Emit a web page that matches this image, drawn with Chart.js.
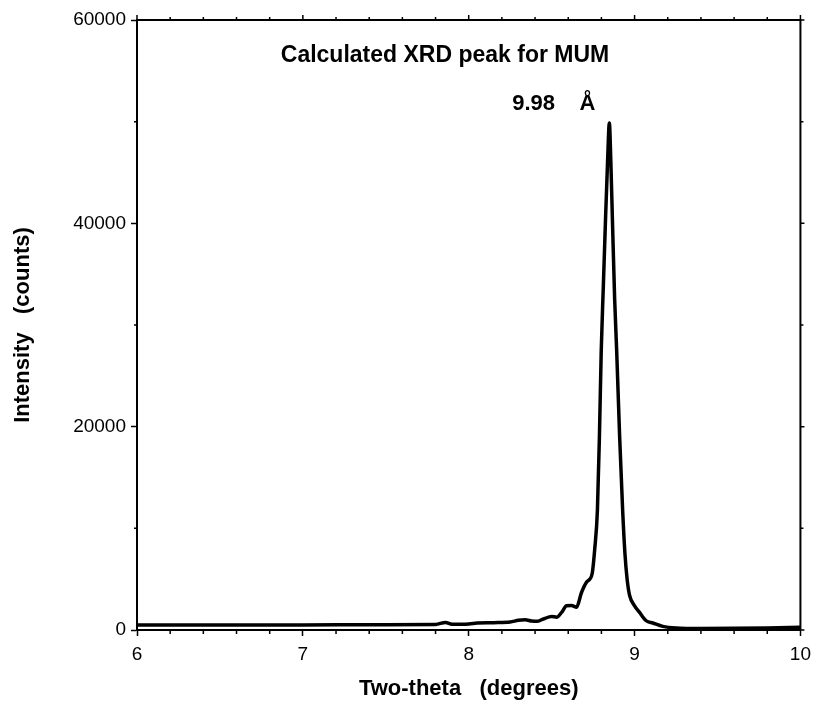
<!DOCTYPE html>
<html>
<head>
<meta charset="utf-8">
<script src="https://cdn.jsdelivr.net/npm/chart.js@4/dist/chart.umd.min.js"></script>
<style>
  html, body { margin: 0; padding: 0; background: #fff; }
  #wrap { width: 818px; height: 702px; position: relative; }
</style>
</head>
<body>
<div id="wrap"><canvas id="c" width="818" height="702"></canvas></div>
<script>
// ---- data ----
const twoTheta = [
  6.0, 6.5, 7.0, 7.5, 7.8, 7.86, 7.9, 8.0, 8.05, 8.15, 8.25, 8.3, 8.34, 8.38,
  8.41, 8.45, 8.50, 8.53, 8.56, 8.59, 8.62, 8.65, 8.68, 8.71, 8.73, 8.745,
  8.76, 8.776, 8.788, 8.799, 8.812, 8.824, 8.837, 8.848, 8.857, 8.867, 8.88,
  8.892, 8.91, 8.928, 8.942, 8.955, 8.97, 9.0, 9.03, 9.07, 9.11, 9.17, 9.25,
  9.4, 9.6, 9.8, 10.0
];
const intensity = [
  480, 490, 500, 520, 540, 750, 560, 590, 680, 720, 780, 950, 1000, 880,
  850, 1080, 1340, 1260, 1730, 2380, 2400, 2250, 3690, 4700, 5000, 5600,
  8000, 11800, 19000, 27500, 34000, 40000, 46000, 49870, 46000, 40000, 32500,
  27500, 19000, 11800, 7500, 5000, 3400, 2380, 1730, 910, 690, 360, 200,
  150, 160, 200, 280
];
const xMajorTicks = [6, 7, 8, 9, 10];
const xMinorTicks = [6.2, 6.4, 6.6, 6.8, 7.2, 7.4, 7.6, 7.8, 8.2, 8.4, 8.6, 8.8, 9.2, 9.4, 9.6, 9.8];
const yMajorTicks = [0, 20000, 40000, 60000];
const yMinorTicks = [10000, 30000, 50000];
const chartTitle = 'Calculated XRD peak for MUM';
const peakLabel = '9.98    Å';
const xTitle = 'Two-theta   (degrees)';
const yTitle = 'Intensity   (counts)';

const FONT = '"Liberation Sans", Arial, Helvetica, sans-serif';

const framePlugin = {
  id: 'frame',
  afterDraw(chart) {
    const {ctx, chartArea: a, scales: {x, y}} = chart;
    ctx.save();
    ctx.strokeStyle = '#000';
    ctx.lineCap = 'butt';
    // top and right frame lines
    ctx.lineWidth = 2;
    ctx.beginPath();
    ctx.moveTo(a.left - 1, a.top);
    ctx.lineTo(a.right + 1, a.top);
    ctx.moveTo(a.right, a.top - 1);
    ctx.lineTo(a.right, a.bottom + 1);
    ctx.stroke();
    ctx.lineWidth = 1.5;
    ctx.beginPath();
    // bottom minor ticks (down), top ticks (up)
    xMinorTicks.forEach(v => {
      const px = x.getPixelForValue(v);
      ctx.moveTo(px, a.bottom); ctx.lineTo(px, a.bottom + 4);
      ctx.moveTo(px, a.top); ctx.lineTo(px, a.top - 3);
    });
    xMajorTicks.forEach(v => {
      const px = x.getPixelForValue(v);
      ctx.moveTo(px, a.top); ctx.lineTo(px, a.top - 5);
    });
    // left minor ticks, right ticks
    yMinorTicks.forEach(v => {
      const py = y.getPixelForValue(v);
      ctx.moveTo(a.left, py); ctx.lineTo(a.left - 3, py);
      ctx.moveTo(a.right, py); ctx.lineTo(a.right + 3, py);
    });
    yMajorTicks.forEach(v => {
      const py = y.getPixelForValue(v);
      ctx.moveTo(a.right, py); ctx.lineTo(a.right + 4, py);
    });
    ctx.stroke();
    // inner title and peak label
    ctx.fillStyle = '#000';
    ctx.font = 'bold 23px ' + FONT;
    ctx.textAlign = 'center';
    ctx.textBaseline = 'alphabetic';
    ctx.fillText(chartTitle, a.left + 308, a.top + 42);
    ctx.font = 'bold 22px ' + FONT;
    ctx.textAlign = 'right';
    ctx.fillText(peakLabel, x.getPixelForValue(8.848) - 14, a.top + 90);
    ctx.restore();
  }
};

new Chart(document.getElementById('c'), {
  type: 'line',
  data: {
    datasets: [{
      data: twoTheta.map((t, i) => ({x: t, y: intensity[i]})),
      borderColor: '#000',
      borderWidth: 3.5,
      pointRadius: 0,
      cubicInterpolationMode: 'monotone',
      fill: false
    }]
  },
  options: {
    responsive: false,
    animation: false,
    events: [],
    layout: { padding: { top: 20, right: 13, left: 0, bottom: 0 } },
    plugins: { legend: { display: false }, tooltip: { enabled: false }, title: { display: false } },
    scales: {
      x: {
        type: 'linear',
        min: 6, max: 10,
        afterBuildTicks(s) { s.ticks = xMajorTicks.map(v => ({value: v})); },
        afterFit(s) { s.height = 72; },
        ticks: {
          color: '#000',
          font: { family: FONT, size: 19 },
          padding: 7,
          maxRotation: 0,
          autoSkip: false,
          callback: v => String(v)
        },
        grid: { display: true, drawOnChartArea: false, drawTicks: true, tickLength: 6, tickWidth: 1.5, color: '#000' },
        border: { display: true, color: '#000', width: 2 },
        title: {
          display: true, text: xTitle, color: '#000',
          font: { family: FONT, size: 22, weight: 'bold' },
          padding: { top: 0, bottom: 0 }
        }
      },
      y: {
        type: 'linear',
        min: 0, max: 60000,
        afterBuildTicks(s) { s.ticks = yMajorTicks.map(v => ({value: v})); },
        afterFit(s) { s.width = 137; },
        ticks: {
          color: '#000',
          font: { family: FONT, size: 19 },
          padding: 5,
          autoSkip: false,
          callback: v => String(v)
        },
        grid: { display: true, drawOnChartArea: false, drawTicks: true, tickLength: 6, tickWidth: 1.5, color: '#000' },
        border: { display: true, color: '#000', width: 2 },
        title: {
          display: true, text: yTitle, color: '#000',
          font: { family: FONT, size: 22, weight: 'bold' },
          padding: { top: 10, bottom: 0 }
        }
      }
    }
  },
  plugins: [framePlugin]
});
</script>
</body>
</html>
